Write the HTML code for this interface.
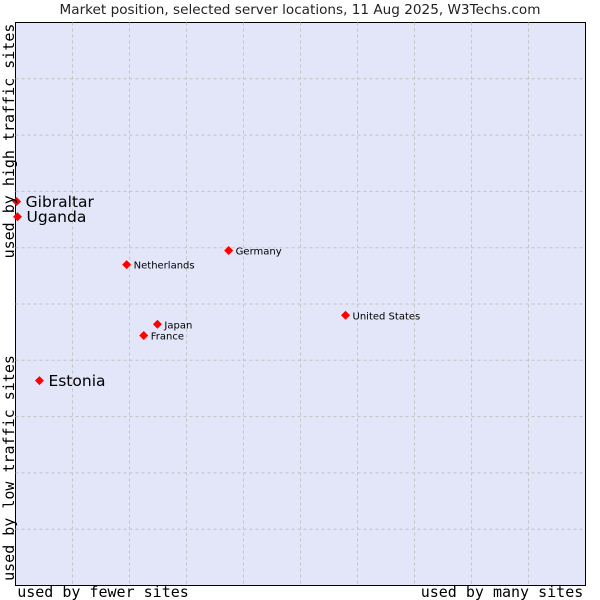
<!DOCTYPE html>
<html><head><meta charset="utf-8"><style>
body{margin:0;background:#fff;width:600px;height:600px;overflow:hidden}
svg{display:block}
</style></head><body>
<svg id="chart" width="600" height="600" xmlns="http://www.w3.org/2000/svg">
<text x="300" y="14" text-anchor="middle" font-family="DejaVu Sans, sans-serif" font-size="13.6" fill="#222">Market position, selected server locations, 11 Aug 2025, W3Techs.com</text>
<rect x="15.5" y="22.5" width="570" height="563" fill="#e3e5f8" stroke="#000" stroke-width="1"/>
<g id="grid"></g>
<g id="points"></g>
<text x="103" y="597" text-anchor="middle" font-family="DejaVu Sans Mono, monospace" font-size="15" fill="#000">used by fewer sites</text>
<text x="502" y="597" text-anchor="middle" font-family="DejaVu Sans Mono, monospace" font-size="15" fill="#000">used by many sites</text>
<text transform="translate(14,141) rotate(-90)" text-anchor="middle" font-family="DejaVu Sans Mono, monospace" font-size="15" fill="#000">used by high traffic sites</text>
<text transform="translate(14,468) rotate(-90)" text-anchor="middle" font-family="DejaVu Sans Mono, monospace" font-size="15" fill="#000">used by low traffic sites</text>
</svg>
<script>
const countries=["Gibraltar","Uganda","Estonia","Netherlands","Germany","Japan","France","United States"];
const xValues=[0.2,0.35,4.2,19.5,37.4,24.9,22.5,57.9];
const yValues=[68.2,65.5,36.4,57.0,59.5,46.4,44.4,48.0];
const bigLabel=[true,true,true,false,false,false,false,false];
const NS="http://www.w3.org/2000/svg";
const X0=15.5,W=570,Y0=22.5,H=563;
function sx(v){return X0+v/100*W;}
function sy(v){return Y0+H-v/100*H;}
const grid=document.getElementById('grid');
for(let i=1;i<10;i++){
  const v=document.createElementNS(NS,'line');
  v.setAttribute('x1',sx(i*10));v.setAttribute('x2',sx(i*10));v.setAttribute('y1',Y0);v.setAttribute('y2',Y0+H);
  v.setAttribute('stroke','#c4c4c4');v.setAttribute('stroke-dasharray','3,3');
  
  
  grid.appendChild(v);
  const h=document.createElementNS(NS,'line');
  h.setAttribute('y1',sy(i*10));h.setAttribute('y2',sy(i*10));h.setAttribute('x1',X0);h.setAttribute('x2',X0+W);
  h.setAttribute('stroke','#c4c4c4');h.setAttribute('stroke-dasharray','3,3');
  
  
  grid.appendChild(h);
}
const pts=document.getElementById('points');
countries.forEach((c,i)=>{
  const x=sx(xValues[i]),y=sy(yValues[i]);
  const d=document.createElementNS(NS,'path');
  d.setAttribute('d',`M${x} ${y-4.5}L${x+4.5} ${y}L${x} ${y+4.5}L${x-4.5} ${y}Z`);
  d.setAttribute('fill','#f00');
  
  
  pts.appendChild(d);
  const t=document.createElementNS(NS,'text');
  t.setAttribute('x',x+(bigLabel[i]?9:7));
  t.setAttribute('y',y+(bigLabel[i]?5.5:4));
  t.setAttribute('font-family','DejaVu Sans, sans-serif');
  t.setAttribute('font-size',bigLabel[i]?'15.5':'10');
  t.setAttribute('fill','#000');
  t.textContent=c;
  
  
  pts.appendChild(t);
});
</script>
</body></html>
